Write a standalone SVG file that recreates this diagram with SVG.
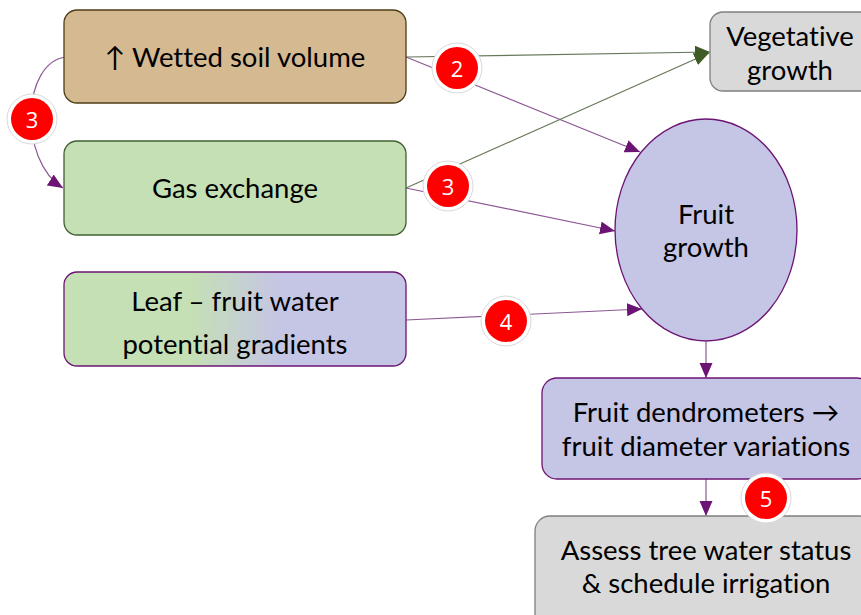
<svg xmlns="http://www.w3.org/2000/svg" width="861" height="615" viewBox="0 0 861 615">
  <style>
    .lbl { font-family: Lato, "Open Sans", "DejaVu Sans", sans-serif; font-size: 27.5px; fill: #000; text-anchor: middle; dominant-baseline: central; font-variant-ligatures: none; }
    .num { font-family: "Open Sans", "DejaVu Sans", sans-serif; font-size: 22px; fill: #fff; text-anchor: middle; dominant-baseline: central; }
    .ring { fill: #fff; stroke: #d9d9d9; stroke-width: 1; }
    .dot { fill: #ff0000; }
    .purp { fill: none; stroke: #8c5794; stroke-width: 1.2; }
    .grn { fill: none; stroke: #66785a; stroke-width: 1.2; }
  </style>
  <defs>
    <marker id="ahP" markerUnits="userSpaceOnUse" markerWidth="16" markerHeight="14" refX="15" refY="6.5" orient="auto">
      <path d="M0,0 L15,6.5 L0,13 z" fill="#6c1473"/>
    </marker>
    <marker id="ahG" markerUnits="userSpaceOnUse" markerWidth="16" markerHeight="14" refX="15" refY="6.5" orient="auto">
      <path d="M0,0 L15,6.5 L0,13 z" fill="#3e5c24"/>
    </marker>
    <linearGradient id="leafFill" x1="0" y1="0" x2="1" y2="0">
      <stop offset="0.37" stop-color="#c5e0b4"/>
      <stop offset="0.63" stop-color="#c5c5e5"/>
    </linearGradient>
  </defs>

  <!-- connectors -->
  <g id="connectors">
    <path class="purp" d="M66,57 C22,62 18,160 63,188" marker-end="url(#ahP)"/>
    <path class="grn" d="M406,57 L710,52" marker-end="url(#ahG)"/>
    <path class="purp" d="M406,57 L640,152" marker-end="url(#ahP)"/>
    <path class="grn" d="M406,188 L709,53" marker-end="url(#ahG)"/>
    <path class="purp" d="M406,188 L615,231" marker-end="url(#ahP)"/>
    <path class="purp" d="M406,320 L642,309" marker-end="url(#ahP)"/>
    <path class="purp" d="M706,342 L706,378" marker-end="url(#ahP)"/>
    <path class="purp" d="M706,479 L706,516" marker-end="url(#ahP)"/>
  </g>

  <!-- nodes -->
  <g id="wetted-soil">
    <rect x="64" y="10" width="342" height="93" rx="13" fill="#d5b991" stroke="#4d3d16" stroke-width="1.3"/>
    <text class="lbl" x="235" y="56">↑ Wetted soil volume</text>
  </g>
  <g id="gas-exchange">
    <rect x="64" y="141" width="342" height="94" rx="13" fill="#c5e0b4" stroke="#3f6030" stroke-width="1.3"/>
    <text class="lbl" x="235" y="187">Gas exchange</text>
  </g>
  <g id="leaf-fruit-gradients">
    <rect x="64" y="272" width="342" height="94" rx="13" fill="url(#leafFill)" stroke="#6c1473" stroke-width="1.3"/>
    <text class="lbl" x="235" y="300">Leaf – fruit water</text>
    <text class="lbl" x="235" y="343">potential gradients</text>
  </g>
  <g id="vegetative-growth">
    <rect x="710" y="12" width="170" height="79" rx="13" fill="#d9d9d9" stroke="#7f7f7f" stroke-width="1.3"/>
    <text class="lbl" x="790" y="35">Vegetative</text>
    <text class="lbl" x="790" y="69">growth</text>
  </g>
  <g id="fruit-growth">
    <ellipse cx="706" cy="230" rx="91" ry="111" fill="#c5c5e5" stroke="#6c1473" stroke-width="1.3"/>
    <text class="lbl" x="706" y="213">Fruit</text>
    <text class="lbl" x="706" y="246">growth</text>
  </g>
  <g id="fruit-dendrometers">
    <rect x="542" y="378" width="330" height="101" rx="15" fill="#c5c5e5" stroke="#6c1473" stroke-width="1.3"/>
    <text class="lbl" x="706" y="411">Fruit dendrometers →</text>
    <text class="lbl" x="706" y="445">fruit diameter variations</text>
  </g>
  <g id="assess-water-status">
    <rect x="535" y="516" width="340" height="120" rx="15" fill="#d9d9d9" stroke="#7f7f7f" stroke-width="1.3"/>
    <text class="lbl" x="706" y="549">Assess tree water status</text>
    <text class="lbl" x="706" y="582">&amp; schedule irrigation</text>
  </g>

  <!-- numbered badges -->
  <g id="badges">
    <g id="badge-2"><circle class="ring" cx="457" cy="68" r="25"/><circle class="dot" cx="457" cy="68" r="21"/><text class="num" x="457" y="68">2</text></g>
    <g id="badge-3a"><circle class="ring" cx="32" cy="119" r="25"/><circle class="dot" cx="32" cy="119" r="21"/><text class="num" x="32" y="119">3</text></g>
    <g id="badge-3b"><circle class="ring" cx="448" cy="186" r="25"/><circle class="dot" cx="448" cy="186" r="21"/><text class="num" x="448" y="186">3</text></g>
    <g id="badge-4"><circle class="ring" cx="506" cy="321" r="25"/><circle class="dot" cx="506" cy="321" r="21"/><text class="num" x="506" y="321">4</text></g>
    <g id="badge-5"><circle class="ring" cx="766" cy="498" r="25"/><circle class="dot" cx="766" cy="498" r="21"/><text class="num" x="766" y="498">5</text></g>
  </g>
</svg>
